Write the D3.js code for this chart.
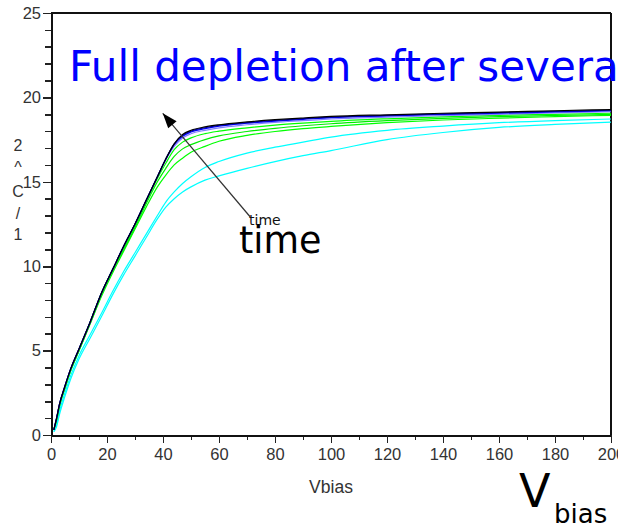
<!DOCTYPE html>
<html><head><meta charset="utf-8">
<script src="https://cdn.jsdelivr.net/npm/d3@7"></script>
<style>html,body{margin:0;padding:0;background:#fff;overflow:hidden}</style>
</head><body>
<svg id="chart" width="618" height="530"></svg>
<script>
// ---- data ----
const vbias = [1,2,3,5,7,10,14,18,22,26,30,34,38,41,44,47,50,55,60,70,80,90,100,120,140,160,180,200];
const seriesNames = ["cyanLow","cyanHigh","green3","green2","green1","lightBlue","blue","navy","black"];
const seriesColors = ["#00ffff","#00ffff","#00ff00","#00ee00","#00ff00","#8080ff","#0000ff","#0000b0","#000000"];
const cyanLow   = [0.2,0.5,1.2,2.3,3.3,4.5,5.75,7.0,8.3,9.5,10.6,11.7,12.8,13.5,14.0,14.4,14.7,15.1,15.35,15.8,16.2,16.55,16.85,17.5,17.92,18.22,18.4,18.54];
const cyanHigh  = [0.2,0.6,1.4,2.5,3.5,4.7,5.95,7.2,8.5,9.7,10.8,11.9,13.0,13.8,14.4,14.9,15.3,15.85,16.2,16.7,17.05,17.35,17.65,18.05,18.3,18.5,18.63,18.72];
const green3    = [0.3,0.9,1.7,2.8,3.8,5.0,6.6,8.2,9.6,10.9,12.2,13.5,14.7,15.4,16.0,16.4,16.75,17.1,17.4,17.75,17.98,18.15,18.28,18.5,18.66,18.77,18.86,18.94];
const green2    = [0.3,0.9,1.7,2.8,3.8,5.0,6.6,8.3,9.7,11.0,12.3,13.7,15.0,15.8,16.5,16.95,17.2,17.5,17.72,17.98,18.17,18.32,18.44,18.62,18.76,18.86,18.93,18.99];
const green1    = [0.3,0.9,1.7,2.8,3.8,5.0,6.7,8.4,9.8,11.1,12.4,13.8,15.2,16.1,16.9,17.35,17.6,17.85,18.0,18.2,18.36,18.48,18.58,18.73,18.85,18.94,19.0,19.06];
const lightBlue = [0.3,1.0,1.8,2.9,3.9,5.1,6.7,8.4,9.8,11.2,12.5,13.9,15.3,16.3,17.1,17.6,17.85,18.05,18.2,18.38,18.52,18.62,18.72,18.83,18.92,19.0,19.08,19.15];
const blue      = [0.3,1.0,1.8,2.9,3.9,5.1,6.7,8.4,9.8,11.2,12.5,13.9,15.3,16.35,17.2,17.7,17.95,18.15,18.3,18.47,18.6,18.7,18.8,18.9,18.99,19.06,19.14,19.21];
const navy      = [0.3,1.0,1.8,2.9,3.9,5.1,6.7,8.4,9.8,11.2,12.5,13.9,15.3,16.35,17.25,17.75,18.0,18.2,18.34,18.51,18.64,18.74,18.83,18.93,19.02,19.1,19.17,19.24];
const black     = [0.3,1.0,1.8,2.9,3.9,5.1,6.7,8.4,9.8,11.2,12.5,13.9,15.3,16.35,17.25,17.8,18.05,18.25,18.38,18.55,18.68,18.78,18.87,18.97,19.06,19.13,19.21,19.28];
const seriesValues = [cyanLow,cyanHigh,green3,green2,green1,lightBlue,blue,navy,black];
const xTicks = [0,20,40,60,80,100,120,140,160,180,200];
const xMinorTicks = [10,30,50,70,90,110,130,150,170,190];
const yTicks = [0,5,10,15,20,25];
const yMinorTicks = [1,2,3,4,6,7,8,9,11,12,13,14,16,17,18,19,21,22,23,24];
const yLabelChars = ["2","^","C","/","1"];
const titleText = "Full depletion after several";

// ---- chart ----
const svg = d3.select("#chart");
const x = d3.scaleLinear().domain([0,200]).range([51,611]);
const y = d3.scaleLinear().domain([0,25]).range([435,13]);
const tickFont = "'Liberation Sans', Arial, sans-serif";

// frame (top/right)
svg.append("line").attr("x1",x(0)).attr("x2",x(200)).attr("y1",y(25)).attr("y2",y(25))
  .attr("stroke","#111").attr("stroke-width",2).attr("shape-rendering","crispEdges");
svg.append("line").attr("x1",x(200)).attr("x2",x(200)).attr("y1",y(25)).attr("y2",y(0))
  .attr("stroke","#111").attr("stroke-width",2).attr("shape-rendering","crispEdges");

// curves
const line = d3.line().x((d,i)=>x(vbias[i])).y(d=>y(d)).curve(d3.curveMonotoneX);
svg.append("g").selectAll("path").data(seriesValues).join("path")
  .attr("d", d=>line(d)).attr("fill","none")
  .attr("stroke",(d,i)=>seriesColors[i]).attr("stroke-width",1.2);

// axes
function styleAxis(g){
  g.select(".domain").attr("stroke","#111").attr("stroke-width",2).attr("shape-rendering","crispEdges");
  g.selectAll(".tick line").attr("stroke","#222").attr("stroke-width",1.6).attr("shape-rendering","crispEdges");
  g.selectAll(".tick text").attr("fill","#333").style("font-family",tickFont).style("font-size","16.5px");
}
svg.append("g").attr("transform",`translate(0,${y(0)})`)
  .call(d3.axisBottom(x).tickValues(xMinorTicks).tickSize(5).tickFormat(""))
  .call(g=>{g.select(".domain").remove(); styleAxis(g);});
svg.append("g").attr("transform",`translate(${x(0)},0)`)
  .call(d3.axisLeft(y).tickValues(yMinorTicks).tickSize(6).tickFormat(""))
  .call(g=>{g.select(".domain").remove(); styleAxis(g);});
svg.append("g").attr("transform",`translate(0,${y(0)})`)
  .call(d3.axisBottom(x).tickValues(xTicks).tickSize(8).tickSizeOuter(0).tickPadding(5).tickFormat(d3.format("d")))
  .call(styleAxis);
svg.append("g").attr("transform",`translate(${x(0)},0)`)
  .call(d3.axisLeft(y).tickValues(yTicks).tickSize(8).tickSizeOuter(0).tickPadding(2).tickFormat(d3.format("d")))
  .call(styleAxis);

// axis titles
svg.append("text").attr("x",(x(0)+x(200))/2).attr("y",493).attr("text-anchor","middle")
  .attr("fill","#333").style("font-family",tickFont).style("font-size","17.5px").text("Vbias");
const yCharBase = [151,173,197,219,240];
svg.append("g").selectAll("text").data(yLabelChars).join("text")
  .attr("x",18).attr("y",(d,i)=>yCharBase[i]).attr("text-anchor","middle")
  .attr("fill","#333").style("font-family",tickFont).style("font-size","16px").text(d=>d);

// title
svg.append("text").attr("x",69).attr("y",81).attr("fill","#0000ff")
  .style("font-family","'DejaVu Sans', sans-serif").style("font-size","42px").text(titleText);

// arrow annotation (data coordinates)
const arrowFrom = [71.1, 12.93], arrowTo = [39.9, 19.06];
const x1 = x(arrowFrom[0]), y1 = y(arrowFrom[1]), x2 = x(arrowTo[0]), y2 = y(arrowTo[1]);
svg.append("line").attr("x1",x1).attr("y1",y1).attr("x2",x2).attr("y2",y2)
  .attr("stroke","#333").attr("stroke-width",1.2);
const ang = Math.atan2(y2-y1, x2-x1), L = 15, W = 5.5;
const bx = x2 - L*Math.cos(ang), by = y2 - L*Math.sin(ang);
svg.append("path").attr("d",`M${x2},${y2}L${bx + W*Math.sin(ang)},${by - W*Math.cos(ang)}L${bx - W*Math.sin(ang)},${by + W*Math.cos(ang)}Z`)
  .attr("fill","#000");
svg.append("text").attr("x",249).attr("y",225).attr("fill","#111")
  .style("font-family","'DejaVu Sans', sans-serif").style("font-size","14px").text("time");
svg.append("text").attr("x",239).attr("y",253).attr("fill","#000")
  .style("font-family","'DejaVu Sans', sans-serif").style("font-size","36.5px").text("time");

// big V_bias
svg.append("text").attr("x",519).attr("y",507).attr("fill","#000")
  .style("font-family","'DejaVu Sans', sans-serif").style("font-size","46px").text("V");
svg.append("text").attr("x",554).attr("y",523).attr("fill","#000")
  .style("font-family","'DejaVu Sans', sans-serif").style("font-size","26px").text("bias");
</script>
</body></html>
